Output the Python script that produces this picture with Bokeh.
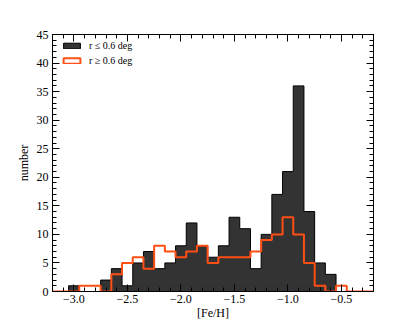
import numpy as np
from bokeh.plotting import figure
from bokeh.models import (Range1d, LinearAxis, FixedTicker, CustomJSTickFormatter,
                          Legend, LegendItem)
from bokeh.embed import file_html
from bokeh.resources import INLINE

# ---- data (histogram counts per 0.1 dex bin) ----
inner_centers = [-3.1, -3.0, -2.9, -2.8, -2.7, -2.6, -2.5, -2.4, -2.3, -2.2,
                 -2.1, -2.0, -1.9, -1.8, -1.7, -1.6, -1.5, -1.4, -1.3, -1.2,
                 -1.1, -1.0, -0.9, -0.8, -0.7, -0.6, -0.5, -0.4, -0.3]
inner_counts = [0, 1, 0, 0, 2, 4, 1, 5, 7, 4,
                5, 8, 12, 8, 6, 8, 13, 11, 4, 10,
                17, 21, 36, 14, 5, 3, 0, 0, 0]

outer_centers = [-3.2, -3.1, -3.0, -2.9, -2.8, -2.7, -2.6, -2.5, -2.4, -2.3,
                 -2.2, -2.1, -2.0, -1.9, -1.8, -1.7, -1.6, -1.5, -1.4, -1.3,
                 -1.2, -1.1, -1.0, -0.9, -0.8, -0.7, -0.6, -0.5, -0.4, -0.3, -0.2]
outer_counts = [0, 0, 0, 1, 1, 0, 3, 5, 6, 4,
                8, 7, 6, 7, 8, 5, 6, 6, 6, 7,
                9, 10, 13, 10, 5, 1, 0, 1, 0, 0, 0]

bin_width = 0.1
x_major = [-3.0, -2.5, -2.0, -1.5, -1.0, -0.5]
y_major = [0, 5, 10, 15, 20, 25, 30, 35, 40, 45]
label_inner = "r \u2264 0.6 deg"
label_outer = "r \u2265 0.6 deg"

FONT = "Liberation Serif"
ORANGE = "#ff4f14"


def step_xy(centers, counts):
    edges = [c - bin_width / 2 for c in centers] + [centers[-1] + bin_width / 2]
    xs = [edges[0]] + edges
    ys = [0] + list(counts) + [0]
    return xs, ys


p = figure(width=415, height=323, frame_width=321, frame_height=257,
           output_backend="svg", toolbar_location=None,
           x_range=Range1d(-3.2, -0.2), y_range=Range1d(0, 45),
           x_axis_location=None, y_axis_location=None,
           min_border_left=52, min_border_right=42,
           min_border_top=34, min_border_bottom=32)
p.grid.visible = False
p.outline_line_color = "black"
p.outline_line_width = 1

xi, yi = step_xy(inner_centers, inner_counts)
p.varea_step(x=xi, y1=[0] * len(xi), y2=yi, step_mode="after",
             fill_color="#333333")
p.step(x=xi, y=yi, mode="after", line_color="black", line_width=1)

xo, yo = step_xy(outer_centers, outer_counts)
p.step(x=xo, y=yo, mode="after", line_color=ORANGE, line_width=2)

# legend proxies (not drawn: NaN coordinates)
nan = [float("nan")]
r_in = p.quad(left=nan, right=nan, top=nan, bottom=nan, fill_color="#333333",
              line_color="black", line_width=1)
r_out = p.quad(left=nan, right=nan, top=nan, bottom=nan, fill_color="white",
               line_color=ORANGE, line_width=2)
legend = Legend(items=[LegendItem(label=label_inner, renderers=[r_in]),
                       LegendItem(label=label_outer, renderers=[r_out])],
                location=(4, 220), margin=0, padding=5,
                glyph_width=21, glyph_height=7, label_height=12,
                label_standoff=7, spacing=3,
                label_text_font=FONT, label_text_font_size="10px",
                label_text_color="black",
                border_line_alpha=0, background_fill_alpha=0)
p.add_layout(legend)

x_minor = list(np.round(np.arange(-3.2, -0.15, 0.1), 2))
y_minor = list(range(0, 46))

fmt_x = CustomJSTickFormatter(code="return tick.toFixed(1).replace('-', '\\u2212');")
fmt_blank = CustomJSTickFormatter(code="return '';")

bottom = LinearAxis(ticker=FixedTicker(ticks=x_major, minor_ticks=x_minor),
                    formatter=fmt_x, axis_label="[Fe/H]")
top = LinearAxis(ticker=FixedTicker(ticks=x_major, minor_ticks=x_minor),
                 formatter=fmt_blank)
left = LinearAxis(ticker=FixedTicker(ticks=y_major, minor_ticks=y_minor),
                  axis_label="number")
right = LinearAxis(ticker=FixedTicker(ticks=y_major, minor_ticks=y_minor),
                   formatter=fmt_blank)

for ax in [bottom, top, left, right]:
    ax.major_tick_in = 7
    ax.major_tick_out = 0
    ax.minor_tick_in = 4
    ax.minor_tick_out = 0
    ax.axis_line_color = "black"
    ax.major_tick_line_color = "black"
    ax.minor_tick_line_color = "black"
    ax.major_label_text_font = FONT
    ax.major_label_text_font_size = "12px"
    ax.major_label_text_color = "black"
    ax.axis_label_text_font = FONT
    ax.axis_label_text_font_size = "12px"
    ax.axis_label_text_font_style = "normal"
    ax.axis_label_text_color = "black"

for ax in [top, right]:
    ax.major_label_standoff = 0

bottom.major_label_standoff = 3
bottom.axis_label_standoff = 0
left.major_label_standoff = 4
left.axis_label_standoff = 3

p.add_layout(bottom, "below")
p.add_layout(top, "above")
p.add_layout(left, "left")
p.add_layout(right, "right")

open("out.html", "w", encoding="utf-8").write(file_html(p, INLINE))
